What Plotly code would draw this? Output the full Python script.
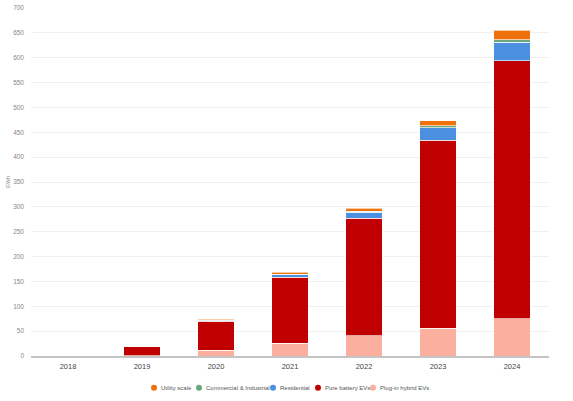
import plotly.graph_objects as go

years = ["2018", "2019", "2020", "2021", "2022", "2023", "2024"]
phev = [0, 1, 12, 26, 41, 56, 75]
bev = [0, 19, 58, 132, 236, 378, 519]
residential = [1.5, 0, 2, 5, 12, 25, 37]
commercial = [0, 0, 1, 1, 2, 4, 5]
utility = [0, 0, 2, 4, 6, 10, 19]

series_names = ["Plug-in hybrid EVs", "Pure battery EVs", "Residential",
                "Commercial & Industrial", "Utility scale"]
series_values = [phev, bev, residential, commercial, utility]
series_colors = ["#fbaf9f", "#c00000", "#4a8fe0", "#6aa87c", "#ef7109"]

y_ticks = [0, 50, 100, 150, 200, 250, 300, 350, 400, 450, 500, 550, 600, 650, 700]

font = "Liberation Sans, Arial, sans-serif"

fig = go.Figure()
for name, vals, col in zip(series_names, series_values, series_colors):
    fig.add_trace(go.Bar(
        x=years, y=vals, name=name, showlegend=False,
        marker=dict(color=col, line=dict(color="rgba(255,255,255,0.8)", width=0.8)),
    ))

# custom legend (dots + labels) centred under the plot
legend_order = list(reversed(range(len(series_names))))
legend_x = [154, 199, 273, 318, 373]  # pixel x of dots
W, H = 573, 401
ml, mr, mt, mb = 31, 24, 4, 45
pw = W - ml - mr
ph = H - mt - mb
legend_y_px = 388
ly = (H - mb - legend_y_px) / ph
for i, px in zip(legend_order, legend_x):
    xp = (px - ml) / pw
    fig.add_shape(type="circle", xref="paper", yref="paper",
                  xsizemode="pixel", ysizemode="pixel",
                  xanchor=xp, yanchor=ly, x0=-3, x1=3, y0=-3, y1=3,
                  fillcolor=series_colors[i], line=dict(width=0))
    fig.add_annotation(text=series_names[i], xref="paper", yref="paper",
                       x=(px + 5 - ml) / pw, y=ly, xanchor="left", yanchor="middle",
                       showarrow=False, font=dict(size=6, color="#555555", family=font))

fig.update_layout(
    barmode="stack",
    bargap=0.51,
    width=W, height=H,
    margin=dict(l=ml, r=mr, t=mt, b=mb),
    plot_bgcolor="white", paper_bgcolor="white",
    font=dict(family=font),
)
fig.update_xaxes(
    type="category", showgrid=False,
    showline=True, linecolor="#c4c4c4", linewidth=1.5,
    ticks="", tickfont=dict(size=7.5, color="#444444"),
    ticklabelstandoff=2,
)
fig.update_yaxes(
    range=[0, 700], tickvals=y_ticks, ticktext=[str(v) for v in y_ticks],
    showgrid=True, gridcolor="#efefef", gridwidth=1,
    zeroline=False, ticks="", tickfont=dict(size=6.5, color="#888888"),
    ticklabelstandoff=6,
    title=dict(text="GWh", font=dict(size=5.5, color="#888888"), standoff=2),
)

fig.write_html("out.html")
